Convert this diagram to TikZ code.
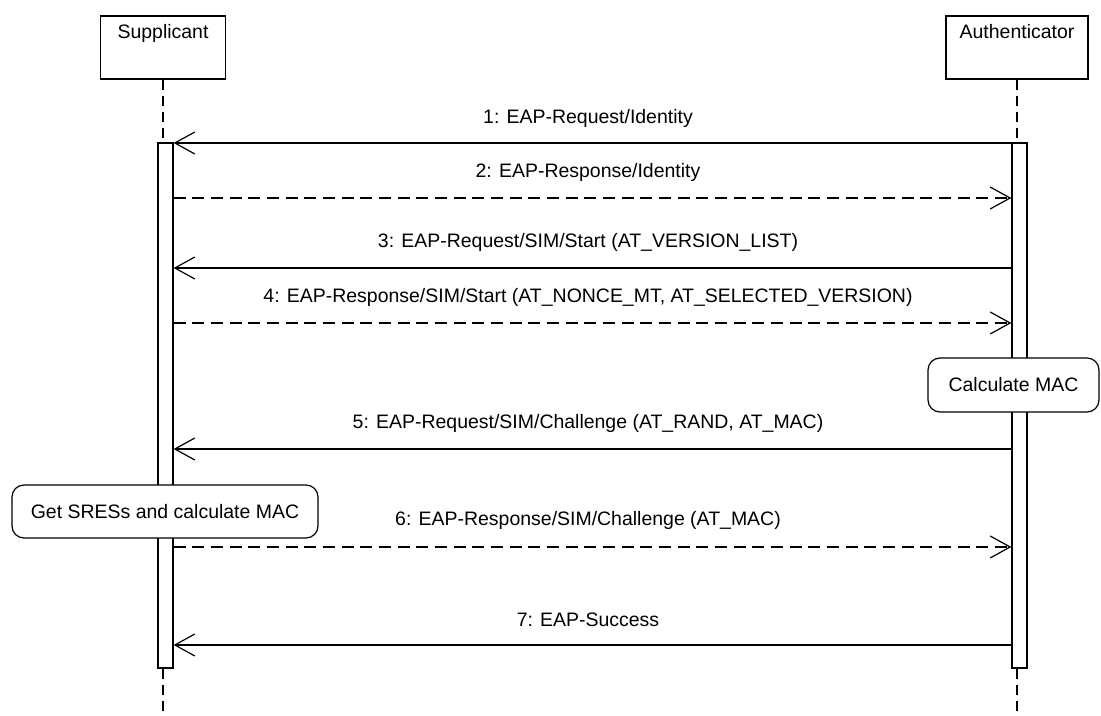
\documentclass[tikz,border=0pt]{standalone}
\usepackage{fontspec}
\setmainfont{Liberation Sans}
\usetikzlibrary{arrows.meta}
\begin{document}
\begin{tikzpicture}[x=0.75pt,y=-0.75pt,line width=0.9pt,
  font=\fontsize{14.6}{17}\selectfont,
  actorbox/.style={draw,fill=white,minimum height=47.25pt,inner sep=0pt},
  actortext/.style={anchor=north,inner sep=0pt,yshift=-6.5pt},
  actbar/.style={draw,fill=white,minimum width=11.25pt,minimum height=393.75pt,inner sep=0pt},
  lifeline/.style={dash pattern=on 7.5pt off 4.5pt},
  sync/.style={-{Straight Barb[length=15pt,width=16.5pt,line width=0.9pt]}},
  reply/.style={-{Straight Barb[length=15pt,width=16.5pt,line width=0.9pt]},dash pattern=on 9pt off 5pt},
  msglabel/.style={inner sep=0pt},
  note/.style={draw,fill=white,rounded corners=9pt,inner sep=0pt}
]
\useasboundingbox[fill=white] (0,0) rectangle (1101,716);

% actors
\node[actorbox,minimum width=93.75pt] (sbox) at (163,47.5) {};
\node[actortext] (stext) at (sbox.north) {Supplicant};
\node[actorbox,minimum width=106.5pt] (abox) at (1017,47.5) {};
\node[actortext] (atext) at (abox.north) {Authenticator};

% activation bars
\node[actbar] (sbar) at (165.5,405.5) {};
\node[actbar] (abar) at (1019.5,405.5) {};

% lifelines
\coordinate (send) at (163,716);
\coordinate (aend) at (1017,716);
\draw[lifeline] (sbox.south) -- (sbox.south |- sbar.north);
\draw[lifeline] (sbox.south |- sbar.south) -- (send);
\draw[lifeline] (abox.south) -- (abox.south |- abar.north);
\draw[lifeline] (abox.south |- abar.south) -- (aend);

% message rows
\coordinate (m1) at (0,143);
\coordinate (m2) at (0,198);
\coordinate (m3) at (0,268);
\coordinate (m4) at (0,323);
\coordinate (m5) at (0,449);
\coordinate (m6) at (0,547);
\coordinate (m7) at (0,645);

\draw[sync]  (abar.west |- m1) -- (sbar.east |- m1);
\draw[reply] (sbar.east |- m2) -- (abar.west |- m2);
\draw[sync]  (abar.west |- m3) -- (sbar.east |- m3);
\draw[reply] (sbar.east |- m4) -- (abar.west |- m4);
\draw[sync]  (abar.west |- m5) -- (sbar.east |- m5);
\draw[reply] (sbar.east |- m6) -- (abar.west |- m6);
\draw[sync]  (abar.west |- m7) -- (sbar.east |- m7);

\node[msglabel] (l1) at (588,118) {1: EAP-Request/Identity};
\node[msglabel] (l2) at (588,172) {2: EAP-Response/Identity};
\node[msglabel] (l3) at (588,242) {3: EAP-Request/SIM/Start (AT\_VERSION\_LIST)};
\node[msglabel] (l4) at (588,297) {4: EAP-Response/SIM/Start (AT\_NONCE\_MT, AT\_SELECTED\_VERSION)};
\node[msglabel] (l5) at (588,423) {5: EAP-Request/SIM/Challenge (AT\_RAND, AT\_MAC)};
\node[msglabel] (l6) at (588,520) {6: EAP-Response/SIM/Challenge (AT\_MAC)};
\node[msglabel] (l7) at (588,620) {7: EAP-Success};

% notes
\node[note,minimum width=128.25pt,minimum height=40.5pt] (n1) at (1013.5,385) {Calculate MAC};
\node[note,minimum width=229.5pt,minimum height=39.75pt] (n2) at (165,511.5) {Get SRESs and calculate MAC};
\end{tikzpicture}
\end{document}
